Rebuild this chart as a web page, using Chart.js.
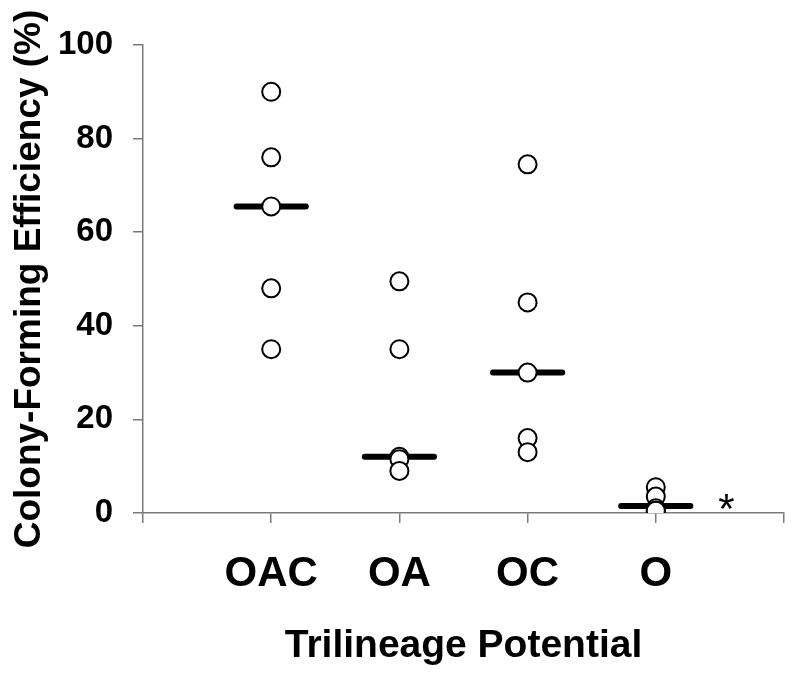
<!DOCTYPE html>
<html>
<head>
<meta charset="utf-8">
<script src="https://cdn.jsdelivr.net/npm/chart.js@4"></script>
<style>
  html, body { margin: 0; padding: 0; background: #fff; }
  #wrap { width: 800px; height: 682px; }
</style>
</head>
<body>
<div id="wrap"><canvas id="cfe-chart" width="800" height="682"></canvas></div>
<script>
// categories + per-group values
const categories = ["OAC", "OA", "OC", "O"];
const oacValues = [90, 76, 65.5, 48, 35];
const oaValues = [49.5, 35, 12, 11.5, 9];
const ocValues = [74.5, 45, 30, 16, 13];
const oValues = [5.5, 3.5, 1, 0.5, 0.5];
const medians = [65.5, 12, 30, 1.5];
const yTicks = [0, 20, 40, 60, 80, 100];
const sigMarks = [{ group: 4.55, value: 1.5, text: "*" }];

const FONT = "'Liberation Sans', Arial, Helvetica, sans-serif";
const AXIS_GRAY = "#7a7a7a";
const HALF_BAR = 0.27;

const groups = [oacValues, oaValues, ocValues, oValues];
const points = [];
groups.forEach((vals, i) => {
  vals.forEach(v => points.push({ x: i + 1, y: v }));
});

const medianLine = [];
medians.forEach((m, i) => {
  medianLine.push({ x: i + 1 - HALF_BAR, y: m });
  medianLine.push({ x: i + 1 + HALF_BAR, y: m });
  medianLine.push({ x: i + 1.5, y: null }); // break between groups
});

const starPlugin = {
  id: "starPlugin",
  afterDatasetsDraw(chart) {
    const ctx = chart.ctx;
    const xs = chart.scales.x, ys = chart.scales.y;
    ctx.save();
    ctx.fillStyle = "#000";
    ctx.font = `42px ${FONT}`;
    ctx.textAlign = "center";
    ctx.textBaseline = "middle";
    sigMarks.forEach(s => {
      ctx.fillText(s.text, xs.getPixelForValue(s.group), ys.getPixelForValue(s.value) + 5);
    });
    ctx.restore();
  }
};

const ctx = document.getElementById("cfe-chart").getContext("2d");
new Chart(ctx, {
  type: "scatter",
  data: {
    datasets: [
      {
        label: "median",
        data: medianLine,
        showLine: true,
        spanGaps: false,
        borderColor: "#000",
        borderWidth: 6,
        borderCapStyle: "round",
        pointRadius: 0,
        order: 2
      },
      {
        label: "CFE",
        data: points,
        pointRadius: 9,
        pointBorderWidth: 2,
        pointBackgroundColor: "#fff",
        pointBorderColor: "#000",
        order: 1
      }
    ]
  },
  options: {
    responsive: false,
    animation: false,
    layout: { padding: { top: 45, right: 16, bottom: 0, left: 0 } },
    plugins: {
      legend: { display: false },
      tooltip: { enabled: false }
    },
    scales: {
      x: {
        type: "linear",
        min: 0,
        max: 5,
        afterFit: scale => {
          scale.height = 169;
          scale.paddingLeft = 0;   // tick padding was eating the right edge
          scale.paddingRight = 0;
        },
        afterBuildTicks: scale => {
          scale.ticks = [0, 1, 2, 3, 4, 5].map(v => ({ value: v }));
        },
        ticks: {
          autoSkip: false,
          maxRotation: 0,
          padding: 26,
          color: "#000",
          font: { family: FONT, size: 42, weight: "bold" },
          callback: v => categories[v - 1] || ""
        },
        grid: {
          drawOnChartArea: false,
          drawTicks: true,
          tickLength: 10,
          color: AXIS_GRAY,
          lineWidth: 1.5
        },
        border: { color: AXIS_GRAY, width: 1.5 },
        title: {
          display: true,
          text: "Trilineage Potential",
          color: "#000",
          font: { family: FONT, size: 39, weight: "bold" },
          padding: { top: 0, bottom: 12 }
        }
      },
      y: {
        min: 0,
        max: 100,
        afterFit: scale => { scale.width = 143; },
        afterBuildTicks: scale => {
          scale.ticks = yTicks.map(v => ({ value: v }));
        },
        ticks: {
          padding: 20,
          color: "#000",
          font: { family: FONT, size: 33, weight: "bold" }
        },
        grid: {
          drawOnChartArea: false,
          drawTicks: true,
          tickLength: 10,
          color: AXIS_GRAY,
          lineWidth: 1.5
        },
        border: { color: AXIS_GRAY, width: 1.5 },
        title: {
          display: true,
          text: "Colony-Forming Efficiency (%)",
          color: "#000",
          font: { family: FONT, size: 37, weight: "bold" },
          padding: { top: 8, bottom: 0 }
        }
      }
    }
  },
  plugins: [starPlugin]
});
</script>
</body>
</html>
